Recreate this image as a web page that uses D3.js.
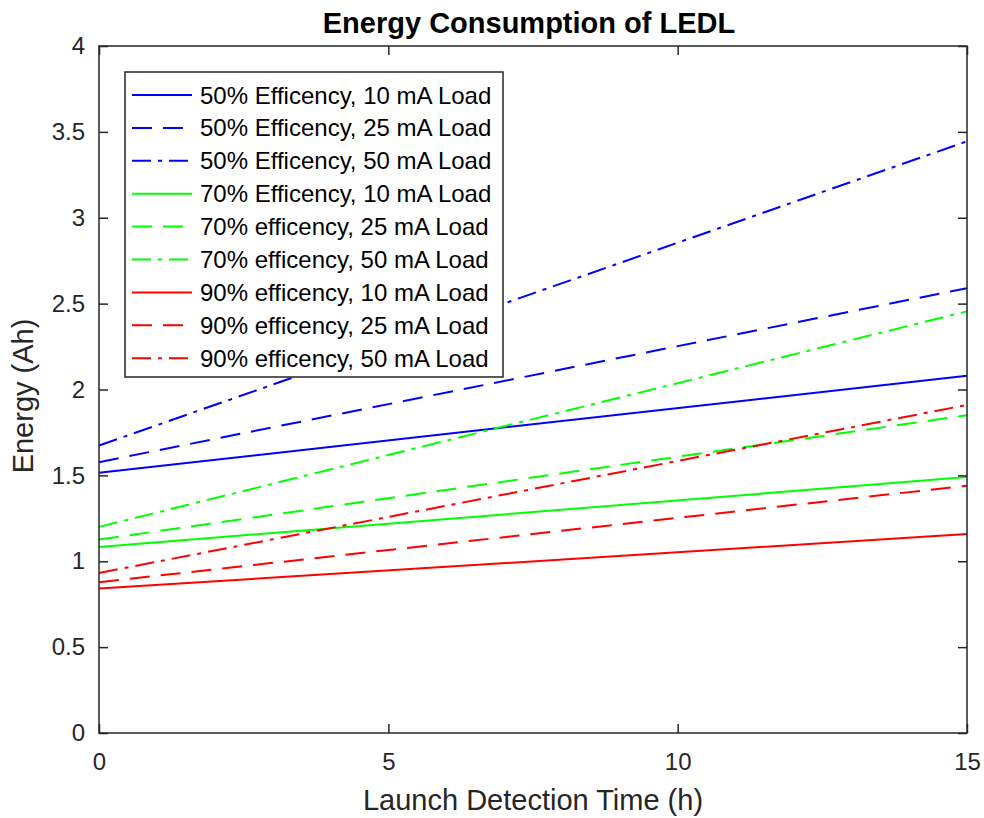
<!DOCTYPE html>
<html><head><meta charset="utf-8">
<script src="https://cdn.jsdelivr.net/npm/d3@7"></script>
<style>body{margin:0;background:#fff;} svg{display:block;font-family:"Liberation Sans",Arial,sans-serif;}</style>
</head><body>
<script>
const xDomain = [0, 15];
const yDomain = [0, 4];
const xTicks = [0, 5, 10, 15];
const yTicks = [0, 0.5, 1, 1.5, 2, 2.5, 3, 3.5, 4];
const seriesNames = [
  "50% Efficency, 10 mA Load",
  "50% Efficency, 25 mA Load",
  "50% Efficency, 50 mA Load",
  "70% Efficency, 10 mA Load",
  "70% efficency, 25 mA Load",
  "70% efficency, 50 mA Load",
  "90% efficency, 10 mA Load",
  "90% efficency, 25 mA Load",
  "90% efficency, 50 mA Load"
];
const seriesColors = ["#0000ff","#0000ff","#0000ff","#00ff00","#00ff00","#00ff00","#ff0000","#ff0000","#ff0000"];
const seriesStyles = ["solid","dashed","dashdot","solid","dashed","dashdot","solid","dashed","dashdot"];
const timeHours = [0, 15];
const energyStart = [1.515, 1.577, 1.674, 1.083, 1.126, 1.200, 0.841, 0.878, 0.932];
const energyEnd   = [2.080, 2.590, 3.445, 1.490, 1.850, 2.455, 1.158, 1.440, 1.910];

const W = 984, H = 818;
const m = {left: 99, right: 967, top: 46, bottom: 733};
const dashMap = {solid: null, dashed: "20,11", dashdot: "19,7,4,7"};
const FONT = '"Liberation Sans",Arial,sans-serif';

const svg = d3.select("body").append("svg").attr("width", W).attr("height", H);
const x = d3.scaleLinear().domain(xDomain).range([m.left, m.right]);
const y = d3.scaleLinear().domain(yDomain).range([m.bottom, m.top]);
const axisColor = "#262626";

// lines
const line = d3.line().x(d => x(d[0])).y(d => y(d[1]));
const plot = svg.append("g");
seriesNames.forEach((name, i) => {
  const pts = timeHours.map((t, k) => [t, k === 0 ? energyStart[i] : energyEnd[i]]);
  plot.append("path").datum(pts).attr("d", line)
    .attr("fill", "none").attr("stroke", seriesColors[i]).attr("stroke-width", 2)
    .attr("stroke-dasharray", dashMap[seriesStyles[i]]);
});

// axes box
function styleAxis(g, fs) {
  g.selectAll(".domain").remove();
  g.selectAll(".tick line").attr("stroke", axisColor).attr("stroke-width", 1.5);
  g.selectAll(".tick text").attr("fill", axisColor).style("font-size", fs + "px")
    .style("font-family", FONT);
}
const fmt = d => String(d);
const xb = svg.append("g").attr("transform", `translate(0,${m.bottom})`)
  .call(d3.axisBottom(x).tickValues(xTicks).tickSize(-9).tickPadding(20).tickFormat(fmt));
styleAxis(xb, 24);
const xt = svg.append("g").attr("transform", `translate(0,${m.top})`)
  .call(d3.axisTop(x).tickValues(xTicks).tickSize(-9).tickFormat(""));
styleAxis(xt, 24);
const yl = svg.append("g").attr("transform", `translate(${m.left},0)`)
  .call(d3.axisLeft(y).tickValues(yTicks).tickSize(-9).tickPadding(14).tickFormat(fmt));
styleAxis(yl, 24);
const yr = svg.append("g").attr("transform", `translate(${m.right},0)`)
  .call(d3.axisRight(y).tickValues(yTicks).tickSize(-9).tickFormat(""));
styleAxis(yr, 24);
svg.append("rect").attr("x", m.left).attr("y", m.top)
  .attr("width", m.right - m.left).attr("height", m.bottom - m.top)
  .attr("fill", "none").attr("stroke", axisColor).attr("stroke-width", 1.5);

// title and labels
svg.append("text").attr("x", 529).attr("y", 33)
  .attr("text-anchor", "middle").style("font-size", "29px").style("font-weight", "bold")
  .attr("fill", "#000").text("Energy Consumption of LEDL");
svg.append("text").attr("x", (m.left + m.right) / 2).attr("y", 810)
  .attr("text-anchor", "middle").style("font-size", "29px").attr("fill", axisColor)
  .text("Launch Detection Time (h)");
svg.append("text").attr("transform", `translate(33,396) rotate(-90)`)
  .attr("text-anchor", "middle").style("font-size", "29px").attr("fill", axisColor)
  .text("Energy (Ah)");

// legend
const lg = svg.append("g");
lg.append("rect").attr("x", 125).attr("y", 72).attr("width", 378).attr("height", 305)
  .attr("fill", "#fff").attr("stroke", axisColor).attr("stroke-width", 1.5);
seriesNames.forEach((name, i) => {
  const cy = 95 + i * 32.9;
  lg.append("line").attr("x1", 132).attr("x2", 192).attr("y1", cy).attr("y2", cy)
    .attr("stroke", seriesColors[i]).attr("stroke-width", 2)
    .attr("stroke-dasharray", dashMap[seriesStyles[i]]);
  lg.append("text").attr("x", 200).attr("y", cy + 8.5).style("font-size", "24px")
    .attr("fill", "#000").text(name);
});
</script>
</body></html>
